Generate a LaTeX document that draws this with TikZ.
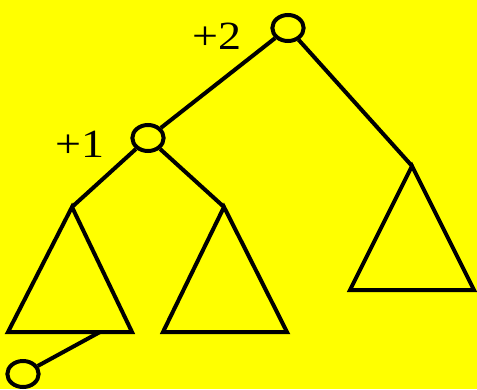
\documentclass[tikz,border=0pt]{standalone}
\usepackage{fontspec}
\setmainfont{Liberation Serif}
\usetikzlibrary{shapes.geometric}
\definecolor{pageyellow}{RGB}{255,255,0}
\tikzset{every picture/.style={line width=3pt}}
\tikzset{
  knot/.style={draw, ellipse, minimum width=23.5pt, minimum height=19.5pt, inner sep=0pt},
  subtree/.style={draw, line join=miter},
  balance/.style={font=\fontsize{30}{32}\selectfont, xscale=1.15}
}

\begin{document}
\begin{tikzpicture}[x=0.75pt,y=0.75pt,yscale=-1,xscale=1]
\fill[pageyellow] (0,0) rectangle (477,389);
\useasboundingbox (0,0) rectangle (477,389);

%Shape: Circle [id:root]
\node[knot] (root) at (288,28) {};
%Shape: Circle [id:left]
\node[knot] (lchild) at (148,138) {};
%Shape: Circle [id:new]
\node[knot] (newleaf) at (23,374) {};

% apexes of the subtrees
\coordinate (tA) at (72,207);
\coordinate (tB) at (224,207);
\coordinate (tC) at (412,166);
\coordinate (hook) at (100,332);

%Shape: Triangle [id:subA]
\draw[subtree] (tA) -- (132,332) -- (8,332) -- cycle;
%Shape: Triangle [id:subB]
\draw[subtree] (tB) -- (287,332) -- (163,332) -- cycle;
%Shape: Triangle [id:subC]
\draw[subtree] (tC) -- (474,290) -- (350,290) -- cycle;

% Edges
\draw (root) -- (lchild);
\draw (root) -- (tC);
\draw (lchild) -- (tA);
\draw (lchild) -- (tB);
\draw (hook) -- (newleaf);

% Text Node
\node[balance] (balroot) at (217,36) {+2};
% Text Node
\node[balance] (balleft) at (80,144) {+1};

\end{tikzpicture}
\end{document}
